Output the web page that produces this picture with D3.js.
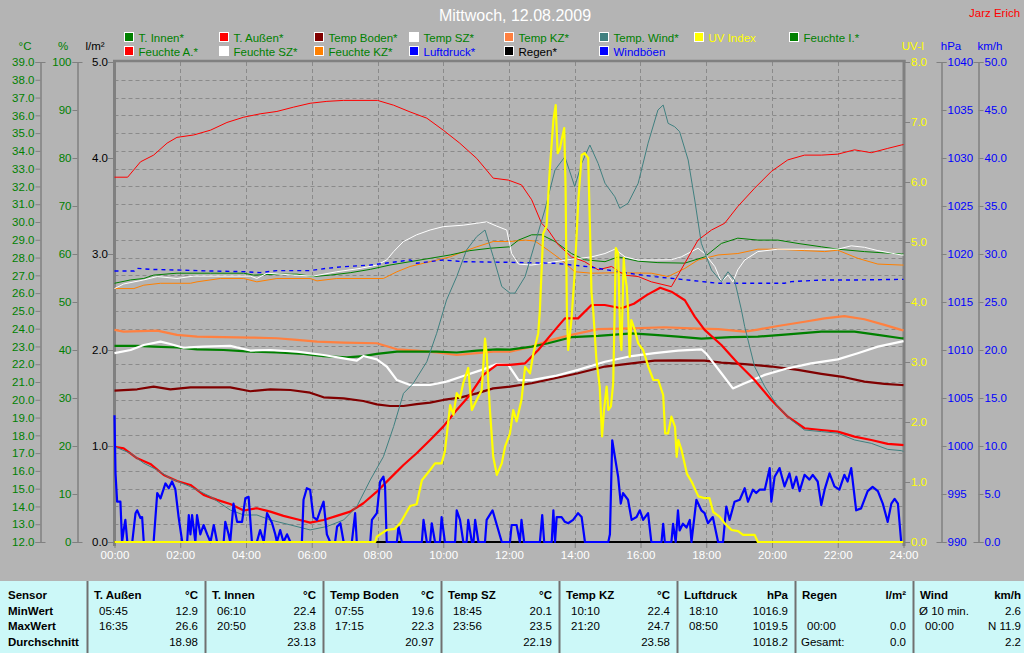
<!DOCTYPE html>
<html><head><meta charset="utf-8">
<script src="https://cdn.jsdelivr.net/npm/d3@7"></script>
<style>
html,body{margin:0;padding:0;background:#b4b4b4;overflow:hidden;}
svg{display:block;font-family:"Liberation Sans",Arial,sans-serif;}
</style></head><body>
<svg id="c" width="1024" height="653"></svg>
<script>
// ---------- DATA (time in hours, value) ----------
const hourTicks = [0,2,4,6,8,10,12,14,16,18,20,22,24];
const hourLabels = ["00:00","02:00","04:00","06:00","08:00","10:00","12:00","14:00","16:00","18:00","20:00","22:00","24:00"];
const tempTicks = [12,13,14,15,16,17,18,19,20,21,22,23,24,25,26,27,28,29,30,31,32,33,34,35,36,37,38,39];
const humTicks = [0,10,20,30,40,50,60,70,80,90,100];
const rainTicks = [0,1,2,3,4,5];
const uvTicks = [0,1,2,3,4,5,6,7,8];
const hpaTicks = [990,995,1000,1005,1010,1015,1020,1025,1030,1035,1040];
const windTicks = [0,5,10,15,20,25,30,35,40,45,50];

const tAussen = [[0,17.36],[0.28,17.27],[0.69,16.71],[1.09,16.39],[1.5,15.77],[1.9,15.43],[2.31,15.21],[2.71,14.65],[3.12,14.37],[3.52,14.14],[3.93,13.77],[4.33,13.9],[4.74,13.71],[5.14,13.47],[5.55,13.28],[5.95,13.09],[6.36,13.24],[6.76,13.47],[7.17,13.71],[7.57,14.18],[7.98,14.83],[8.38,15.58],[8.79,16.33],[9.19,16.99],[9.6,17.74],[10.0,18.49],[10.41,19.43],[10.81,20.27],[11.22,21.4],[11.63,21.96],[12.03,21.96],[12.49,22.05],[12.89,22.8],[13.4,23.93],[13.7,24.58],[14.1,24.58],[14.51,25.33],[14.91,25.33],[15.42,25.15],[15.8,25.4],[16.2,25.9],[16.6,26.3],[16.94,26.08],[17.35,25.6],[17.65,24.68],[17.95,23.93],[18.46,23.08],[18.96,22.05],[19.47,21.11],[19.98,19.99],[20.48,19.05],[20.99,18.4],[21.5,18.3],[22.0,18.21],[22.51,17.93],[23.02,17.74],[23.52,17.52],[23.93,17.46],[24,17.45]];
const tWind = [[0,17.36],[0.49,16.99],[0.89,16.43],[1.3,16.05],[1.7,15.58],[2.31,15.11],[2.92,14.55],[3.52,13.8],[3.93,13.52],[4.33,13.52],[4.74,13.24],[5.35,12.96],[5.95,12.68],[6.46,12.87],[6.97,13.24],[7.37,13.99],[7.78,15.49],[8.18,16.8],[8.49,18.49],[8.79,20.36],[9.09,20.93],[9.5,22.14],[9.8,23.74],[10.1,25.61],[10.41,26.93],[10.71,28.43],[11.02,29.18],[11.27,29.55],[11.52,28.05],[11.78,26.37],[12.03,26.0],[12.18,26.0],[12.49,26.93],[12.79,28.8],[13.09,30.68],[13.4,32.93],[13.7,33.67],[14.0,31.99],[14.21,33.3],[14.46,34.33],[14.71,33.3],[14.92,32.18],[15.22,31.42],[15.37,30.77],[15.62,31.05],[15.93,32.18],[16.23,34.43],[16.53,36.3],[16.69,36.58],[16.84,35.55],[17.04,35.36],[17.19,35.08],[17.45,33.49],[17.65,31.24],[17.85,28.8],[18.16,27.3],[18.46,26.64],[18.66,27.2],[18.86,26.74],[19.07,25.05],[19.17,24.11],[19.47,21.87],[19.78,20.74],[20.18,19.62],[20.59,18.86],[20.99,18.3],[21.5,18.21],[22.0,18.12],[22.51,17.74],[23.02,17.55],[23.52,17.21],[23.93,17.14],[24,17.1]];
const tBoden = [[0,20.52],[0.69,20.59],[1.19,20.74],[1.7,20.59],[2.31,20.7],[2.92,20.7],[3.52,20.7],[4.13,20.48],[4.74,20.59],[5.35,20.55],[5.95,20.4],[6.36,20.14],[6.97,20.08],[7.57,19.93],[7.98,19.74],[8.38,19.65],[8.79,19.65],[9.19,19.76],[9.6,19.84],[10.0,19.99],[10.51,20.12],[11.02,20.36],[11.52,20.64],[12.03,20.74],[12.69,20.93],[13.4,21.21],[14.1,21.49],[14.92,21.87],[15.73,22.05],[16.43,22.2],[17.2,22.22],[17.95,22.2],[18.46,22.09],[19.17,22.01],[19.98,21.87],[20.79,21.68],[21.5,21.46],[22.2,21.27],[22.81,21.02],[23.42,20.89],[23.93,20.83],[24,20.82]];
const tInnen = [[0,23.03],[0.69,23.03],[1.19,22.99],[1.9,22.94],[2.51,22.84],[3.32,22.8],[4.13,22.71],[4.94,22.66],[5.75,22.58],[6.36,22.46],[7.07,22.39],[7.57,22.46],[7.98,22.58],[8.59,22.71],[9.19,22.71],[9.8,22.71],[10.41,22.66],[11.02,22.77],[11.63,22.84],[12.03,22.82],[12.69,22.99],[13.19,23.18],[13.9,23.52],[14.71,23.59],[15.73,23.74],[16.43,23.65],[17.14,23.55],[17.85,23.44],[18.76,23.52],[19.57,23.55],[20.48,23.68],[21.5,23.83],[22.51,23.83],[23.22,23.65],[23.93,23.46],[24,23.45]];
const tKZ = [[0,23.93],[0.28,23.83],[1.3,23.89],[1.9,23.65],[2.51,23.55],[3.32,23.52],[4.13,23.5],[4.94,23.46],[5.55,23.37],[6.16,23.27],[6.97,23.22],[7.98,23.18],[8.59,22.84],[9.19,22.77],[9.8,22.66],[10.41,22.52],[11.02,22.62],[11.52,22.71],[12.03,22.71],[12.69,22.99],[13.29,23.37],[13.9,23.65],[14.71,23.97],[15.73,24.02],[16.73,24.08],[17.55,24.02],[18.36,23.97],[19.17,23.83],[19.57,23.95],[20.18,24.15],[20.99,24.39],[21.6,24.58],[22.2,24.71],[22.81,24.53],[23.42,24.21],[23.93,23.93],[24,23.9]];
const tSZ = [[0,22.62],[0.49,22.8],[0.89,23.08],[1.4,23.27],[1.7,23.14],[2.1,22.93],[2.71,22.99],[3.52,23.03],[4.13,22.77],[4.74,22.8],[5.55,22.71],[6.36,22.52],[6.97,22.33],[7.37,22.2],[7.57,22.46],[7.98,22.27],[8.28,21.87],[8.59,21.11],[8.99,20.83],[9.6,20.83],[10.1,21.02],[10.61,21.34],[11.22,21.71],[11.63,22.01],[11.98,21.96],[12.29,21.11],[12.69,21.11],[13.4,21.34],[14.1,21.68],[14.92,22.14],[15.73,22.46],[16.43,22.62],[17.14,22.77],[17.85,22.84],[18.0,22.6],[18.46,21.49],[18.81,20.64],[19.17,20.93],[19.78,21.4],[20.48,21.77],[21.19,22.05],[22.0,22.27],[22.61,22.62],[23.22,22.99],[23.93,23.27],[24,23.3]];
const hAussen = [[0,76.0],[0.4,76.0],[0.79,79.2],[1.19,80.6],[1.6,83.1],[1.9,84.3],[2.41,84.8],[2.92,85.8],[3.42,87.4],[3.93,88.5],[4.43,89.2],[4.94,89.7],[5.45,90.6],[5.95,91.4],[6.46,91.8],[6.97,92.0],[8.0,92.0],[8.49,91.0],[8.99,89.6],[9.5,88.3],[10.0,85.8],[10.5,83.1],[11.02,79.9],[11.52,75.8],[11.98,75.4],[12.38,74.4],[12.69,71.3],[12.99,66.4],[13.19,65.0],[13.5,61.9],[13.9,59.4],[14.3,58.4],[14.71,56.7],[15.12,57.4],[15.52,55.6],[15.93,55.3],[16.33,54.2],[16.94,53.2],[17.35,58.1],[17.75,62.9],[18.16,65.0],[18.56,66.4],[18.96,69.9],[19.47,73.7],[19.98,77.2],[20.48,79.6],[20.99,80.6],[21.5,80.6],[22.0,80.8],[22.51,81.7],[23.02,81.1],[23.52,82.0],[23.93,82.7],[24,82.8]];
const hInnen = [[0,53.9],[0.49,54.6],[0.89,54.9],[1.19,55.6],[1.9,56.0],[2.92,56.0],[3.93,56.0],[4.23,55.6],[4.94,55.8],[5.55,55.8],[6.05,55.3],[6.56,55.6],[7.17,56.1],[7.78,56.8],[8.38,57.7],[8.99,58.4],[9.6,59.1],[10.21,59.8],[10.81,60.7],[11.42,61.2],[12.03,61.5],[12.29,62.9],[12.69,64.0],[12.99,64.0],[13.4,62.6],[13.9,60.1],[14.3,58.8],[14.92,58.4],[15.32,59.4],[15.93,58.5],[16.53,58.2],[17.35,58.1],[17.95,59.4],[18.46,62.2],[18.96,63.3],[19.57,62.9],[20.18,62.9],[20.79,62.2],[21.5,61.5],[22.0,61.0],[22.81,60.5],[23.93,60.0],[24,60.0]];
const hSZ = [[0,52.8],[0.28,53.75],[0.89,54.6],[1.3,55.3],[1.9,54.9],[2.41,55.4],[3.42,55.4],[4.13,55.4],[4.33,54.9],[4.64,56.0],[5.45,55.6],[6.05,55.4],[6.76,56.3],[7.47,57.0],[7.98,57.7],[8.28,58.75],[8.49,60.5],[8.79,62.6],[9.19,64.0],[9.6,65.0],[10.0,65.7],[10.61,66.0],[11.02,66.4],[11.32,66.7],[11.63,65.8],[11.93,65.0],[12.08,60.1],[12.29,57.9],[12.69,57.7],[13.4,58.4],[13.9,58.9],[14.51,59.4],[14.92,60.1],[15.22,61.0],[15.53,59.4],[15.93,58.75],[16.43,58.75],[16.94,58.8],[17.24,59.4],[17.55,60.5],[17.75,61.2],[17.95,60.1],[18.26,57.4],[18.46,54.2],[18.66,55.6],[18.81,54.2],[18.96,56.7],[19.17,58.75],[19.57,60.5],[20.18,61.0],[20.99,61.0],[22.0,61.0],[22.41,61.7],[22.81,61.4],[23.22,60.7],[23.93,59.8],[24,59.8]];
const hKZ = [[0,52.8],[0.59,52.8],[0.89,53.5],[1.4,53.9],[2.31,53.9],[2.51,54.2],[3.22,54.9],[3.93,54.9],[4.33,54.2],[4.94,54.9],[5.95,54.9],[6.16,54.4],[6.76,54.9],[8.18,54.9],[8.59,56.3],[8.99,57.4],[9.6,58.4],[10.21,59.4],[10.61,60.5],[11.02,61.5],[11.52,62.6],[12.03,62.6],[12.49,62.9],[12.79,62.7],[13.19,60.8],[13.6,58.75],[14.0,56.3],[14.51,56.0],[15.32,56.1],[16.33,56.0],[16.84,55.3],[17.35,57.0],[17.75,58.75],[18.36,59.8],[18.96,60.1],[19.57,61.0],[20.18,61.0],[20.99,60.7],[21.6,60.5],[22.0,60.8],[22.61,59.1],[23.22,57.9],[23.93,57.7],[24,57.7]];
const pressure = [[0,1018.23],[0.6,1018.23],[0.69,1018.51],[1.09,1018.4],[1.9,1018.33],[2.92,1018.23],[3.93,1018.16],[4.43,1018.06],[4.94,1018.27],[5.95,1018.27],[6.46,1018.51],[6.97,1018.68],[7.78,1018.85],[8.38,1019.1],[8.99,1019.38],[9.19,1019.03],[10.0,1019.38],[10.61,1019.2],[12.03,1019.13],[13.4,1019.03],[14.41,1018.68],[15.42,1018.09],[16.43,1017.64],[17.24,1017.36],[18.36,1016.95],[19.47,1016.95],[20.38,1016.95],[20.59,1017.12],[21.5,1017.29],[22.51,1017.29],[23.93,1017.36],[24,1017.36]];
const rain = [[0,0],[24,0]];
const uvIndex = [[0,0],[7.93,0],[7.98,0.09],[8.28,0.2],[8.52,0.22],[8.69,0.31],[8.99,0.6],[9.19,0.63],[9.35,1.03],[9.6,1.2],[9.75,1.31],[9.95,1.31],[10.05,1.51],[10.21,2.28],[10.31,2.12],[10.41,2.48],[10.51,2.4],[10.61,2.65],[10.76,2.9],[10.87,2.2],[11.02,2.37],[11.17,2.53],[11.27,3.39],[11.32,3.14],[11.42,2.2],[11.52,1.42],[11.63,1.12],[11.78,1.31],[11.88,1.59],[12.03,1.81],[12.13,2.2],[12.23,2.01],[12.38,2.37],[12.49,2.92],[12.64,2.81],[12.74,3.14],[12.89,3.48],[12.94,3.87],[13.04,5.14],[13.14,5.26],[13.24,6.2],[13.35,7.03],[13.42,7.28],[13.48,6.48],[13.55,6.56],[13.6,6.7],[13.68,6.9],[13.72,5.92],[13.76,3.87],[13.8,3.2],[13.9,3.7],[14.0,4.5],[14.11,5.7],[14.21,6.45],[14.3,6.48],[14.41,6.4],[14.51,4.15],[14.56,3.87],[14.66,3.03],[14.76,2.59],[14.83,1.76],[14.89,2.2],[14.97,2.59],[15.02,2.2],[15.1,2.26],[15.17,2.65],[15.22,4.03],[15.25,4.9],[15.32,4.81],[15.38,3.5],[15.42,3.2],[15.49,4.73],[15.52,4.48],[15.58,4.26],[15.62,3.87],[15.67,3.09],[15.72,3.7],[15.83,3.53],[15.93,3.31],[16.08,3.2],[16.24,2.92],[16.39,2.7],[16.54,2.7],[16.69,2.45],[16.75,1.81],[16.84,1.81],[16.94,2.09],[17.05,1.92],[17.1,1.42],[17.15,1.7],[17.25,1.53],[17.41,1.14],[17.56,1.0],[17.76,0.76],[17.96,0.73],[18.1,0.73],[18.21,0.5],[18.41,0.42],[18.56,0.31],[18.77,0.2],[18.97,0.18],[19.12,0.12],[19.47,0.12],[19.57,0],[24,0]];
const gusts = [[0,13.2],[0.03,7.15],[0.08,4.2],[0.18,4.2],[0.23,0],[0.28,1.25],[0.33,2.3],[0.39,0],[0.54,0],[0.64,3.0],[0.69,3.3],[0.79,2.5],[0.84,2.6],[0.89,0],[1.19,0],[1.3,5.1],[1.4,4.55],[1.55,6.1],[1.65,5.6],[1.75,6.3],[1.85,5.5],[1.95,2.6],[2.06,0],[2.21,0],[2.26,2.8],[2.31,0.8],[2.36,2.8],[2.46,0],[2.51,2.8],[2.61,0.8],[2.71,1.77],[2.82,0.8],[2.92,0],[3.02,1.77],[3.12,0],[3.32,0],[3.37,2.1],[3.47,0.8],[3.52,0],[3.62,4.0],[3.73,2.1],[3.88,2.1],[3.98,4.55],[4.08,4.7],[4.18,0],[4.33,0],[4.43,1.25],[4.54,0],[4.64,3.0],[4.79,2.0],[4.89,0.8],[4.94,0],[5.04,1.25],[5.14,0],[5.25,0.8],[5.35,0],[5.7,0],[5.75,4.4],[5.85,5.6],[5.95,5.45],[6.05,2.6],[6.16,2.3],[6.26,3.3],[6.36,4.2],[6.46,0.8],[6.56,0],[6.71,0],[6.77,1.6],[6.87,1.95],[6.97,0],[7.22,0],[7.32,3.0],[7.37,0],[7.78,0],[7.83,2.3],[7.98,3.0],[8.08,6.3],[8.18,6.8],[8.23,5.8],[8.28,0],[8.59,0],[8.64,1.6],[8.74,0],[9.35,0],[9.4,2.3],[9.5,0],[9.6,0],[9.65,1.95],[9.75,0],[9.9,0],[9.95,2.6],[10.05,0],[10.36,0],[10.41,3.3],[10.51,2.3],[10.61,0],[10.71,0],[10.76,2.3],[10.87,0],[10.92,0],[10.97,2.3],[11.07,0],[11.27,0],[11.32,2.3],[11.5,3.3],[11.63,1.77],[11.78,0],[12.03,0],[12.08,1.77],[12.23,1.77],[12.33,0],[12.38,2.3],[12.46,0],[12.94,0],[13.01,2.8],[13.07,0],[13.3,0],[13.35,3.3],[13.4,0],[13.45,2.6],[13.5,2.6],[13.6,2.6],[13.7,2.1],[13.8,1.95],[13.95,2.3],[14.1,3.0],[14.21,2.6],[14.31,0],[15.02,0],[15.07,0.8],[15.14,10.6],[15.22,8.9],[15.32,6.8],[15.4,4.0],[15.47,5.1],[15.62,4.4],[15.73,2.3],[15.88,2.6],[15.98,3.3],[16.08,2.3],[16.23,3.0],[16.33,0],[16.64,0],[16.69,1.9],[16.74,0],[16.94,0],[16.99,1.9],[17.07,0],[17.14,3.3],[17.19,1.2],[17.29,1.9],[17.4,1.5],[17.5,2.3],[17.55,0],[17.7,4.4],[17.85,3.3],[17.95,3.0],[18.05,1.95],[18.2,2.6],[18.36,0],[18.51,0],[18.61,3.7],[18.71,2.3],[18.86,4.2],[19.02,4.4],[19.17,5.6],[19.27,4.2],[19.42,5.45],[19.52,5.1],[19.62,5.45],[19.78,5.45],[19.93,7.7],[19.98,4.2],[20.08,6.8],[20.23,7.7],[20.38,5.8],[20.53,7.15],[20.63,5.6],[20.74,6.8],[20.84,5.3],[20.99,7.0],[21.14,6.5],[21.24,7.0],[21.39,6.3],[21.5,3.85],[21.6,5.45],[21.75,7.15],[21.9,5.8],[22.05,5.45],[22.2,7.0],[22.3,6.3],[22.41,7.7],[22.56,3.3],[22.71,3.5],[22.91,5.3],[23.06,5.75],[23.22,5.3],[23.37,4.0],[23.52,2.1],[23.63,4.0],[23.73,4.5],[23.83,4.0],[23.93,0],[24,0]];

// legend entries
const legendLabels = ["T. Innen*","T. Außen*","Temp Boden*","Temp SZ*","Temp KZ*","Temp. Wind*","UV Index","Feuchte I.*","Feuchte A.*","Feuchte SZ*","Feuchte KZ*","Luftdruck*","Regen*","Windböen"];
const legendSwatch = ["#008000","#ff0000","#800000","#ffffff","#ff8040","#408080","#ffff00","#008000","#ff0000","#ffffff","#ff8000","#0000ff","#000000","#0000ff"];
const legendText = ["#008000","#008000","#008000","#008000","#008000","#008000","#ffff00","#008000","#008000","#008000","#008000","#0000ff","#000000","#0000ff"];

// table
const tableRowLabels = ["Sensor","MinWert","MaxWert","Durchschnitt"];
const tableCols = [
  {name:"T. Außen", unit:"°C", min:["05:45","12.9"], max:["16:35","26.6"], avg:["","18.98"]},
  {name:"T. Innen", unit:"°C", min:["06:10","22.4"], max:["20:50","23.8"], avg:["","23.13"]},
  {name:"Temp Boden", unit:"°C", min:["07:55","19.6"], max:["17:15","22.3"], avg:["","20.97"]},
  {name:"Temp SZ", unit:"°C", min:["18:45","20.1"], max:["23:56","23.5"], avg:["","22.19"]},
  {name:"Temp KZ", unit:"°C", min:["10:10","22.4"], max:["21:20","24.7"], avg:["","23.58"]},
  {name:"Luftdruck", unit:"hPa", min:["18:10","1016.9"], max:["08:50","1019.5"], avg:["","1018.2"]},
  {name:"Regen", unit:"l/m²", min:["",""], max:["00:00","0.0"], avg:["Gesamt:","0.0"]},
  {name:"Wind", unit:"km/h", min:["Ø 10 min.","2.6"], max:["00:00","N 11.9"], avg:["","2.2"]}
];

// ---------- DRAW ----------
const svg = d3.select("#c");
const GRAY = "#808080";
svg.append("rect").attr("width",1024).attr("height",653).attr("fill","#b4b4b4");

const x = d3.scaleLinear([0,24],[114.5,903.5]);
const yT = d3.scaleLinear([12,39],[542,62]);
const yH = d3.scaleLinear([0,100],[542,62]);
const yR = d3.scaleLinear([0,5],[542,62]);
const yU = d3.scaleLinear([0,8],[542,62]);
const yP = d3.scaleLinear([990,1040],[542,62]);
const yW = d3.scaleLinear([0,50],[542,62]);

// title
svg.append("text").attr("x",515).attr("y",21).attr("text-anchor","middle")
  .attr("fill","#ffffff").attr("font-size",16).text("Mittwoch, 12.08.2009");
svg.append("text").attr("x",969).attr("y",17).attr("fill","#ff0000").attr("font-size",11.5).text("Jarz Erich");

// legend
const lg = svg.append("g");
legendLabels.forEach((lab,i)=>{
  const row = i<8?0:1, col = i<8?i:i-8;
  const sx = 124.5 + col*95, sy = 32.5 + row*14;
  lg.append("rect").attr("x",sx).attr("y",sy).attr("width",9).attr("height",9)
    .attr("fill",legendSwatch[i]).attr("stroke","#ffffff").attr("stroke-width",1);
  lg.append("text").attr("x",sx+14).attr("y",sy+9).attr("font-size",11.5)
    .attr("fill",legendText[i]).text(lab);
});

// unit labels
const units = [["°C",25,"#008000"],["%",63,"#008000"],["l/m²",95,"#000000"],["UV-I",913,"#ffff00"],["hPa",951,"#0000ff"],["km/h",990,"#0000ff"]];
units.forEach(u=>svg.append("text").attr("x",u[1]).attr("y",50).attr("text-anchor","middle")
  .attr("font-size",11.5).attr("fill",u[2]).text(u[0]));

// grid
const grid = svg.append("g").attr("stroke","#8a8a8a").attr("stroke-width",1).attr("stroke-dasharray","4,3");
tempTicks.filter(t=>t>12&&t<39).forEach(t=>grid.append("line")
  .attr("x1",x(0)).attr("x2",x(24)).attr("y1",Math.round(yT(t))+0.5).attr("y2",Math.round(yT(t))+0.5));
hourTicks.filter(h=>h>0&&h<24).forEach(h=>grid.append("line")
  .attr("x1",Math.round(x(h))+0.5).attr("x2",Math.round(x(h))+0.5).attr("y1",62).attr("y2",542));

// frame
svg.append("line").attr("x1",114.5).attr("x2",114.5).attr("y1",60).attr("y2",546).attr("stroke",GRAY).attr("stroke-width",3);
svg.append("line").attr("x1",904).attr("x2",904).attr("y1",60).attr("y2",546).attr("stroke",GRAY).attr("stroke-width",3);
svg.append("line").attr("x1",113).attr("x2",905.5).attr("y1",61).attr("y2",61).attr("stroke",GRAY).attr("stroke-width",2.5);
svg.append("line").attr("x1",113).attr("x2",905.5).attr("y1",542.5).attr("y2",542.5).attr("stroke",GRAY).attr("stroke-width",1);

function styleAxis(g,color){
  g.selectAll("text").attr("fill",color).attr("font-size",11.5).attr("font-family","'Liberation Sans',Arial,sans-serif");
  g.selectAll("line").attr("stroke",GRAY);
  g.selectAll(".domain").attr("stroke",GRAY).attr("stroke-width",1.5);
}
function caps(xp, scale, dom){
  dom.forEach(v=>svg.append("line").attr("x1",xp-5).attr("x2",xp+5)
    .attr("y1",Math.round(scale(v))+0.5).attr("y2",Math.round(scale(v))+0.5).attr("stroke",GRAY));
}
// left axes
const aT = svg.append("g").attr("transform","translate(40.5,0)")
  .call(d3.axisLeft(yT).tickValues(tempTicks).tickFormat(d3.format(".1f")).tickSize(5).tickSizeOuter(0).tickPadding(1));
styleAxis(aT,"#008000"); caps(40.5,yT,[12,39]);
const aH = svg.append("g").attr("transform","translate(77.5,0)")
  .call(d3.axisLeft(yH).tickValues(humTicks).tickFormat(d3.format("d")).tickSize(5).tickSizeOuter(0).tickPadding(1));
styleAxis(aH,"#008000"); caps(77.5,yH,[0,100]);
const aR = svg.append("g").attr("transform","translate(113,0)")
  .call(d3.axisLeft(yR).tickValues(rainTicks).tickFormat(d3.format(".1f")).tickSize(5).tickSizeOuter(0).tickPadding(0));
styleAxis(aR,"#000000"); aR.select(".domain").remove();
// right axes
const aU = svg.append("g").attr("transform","translate(905,0)")
  .call(d3.axisRight(yU).tickValues(uvTicks).tickFormat(d3.format(".1f")).tickSize(5).tickSizeOuter(0).tickPadding(1));
styleAxis(aU,"#ffff00"); aU.select(".domain").remove();
const aP = svg.append("g").attr("transform","translate(941.5,0)")
  .call(d3.axisRight(yP).tickValues(hpaTicks).tickFormat(d3.format("d")).tickSize(5).tickSizeOuter(0).tickPadding(1));
styleAxis(aP,"#0000ff"); caps(941.5,yP,[990,1040]);
const aW = svg.append("g").attr("transform","translate(978.5,0)")
  .call(d3.axisRight(yW).tickValues(windTicks).tickFormat(d3.format(".1f")).tickSize(5).tickSizeOuter(0).tickPadding(1));
styleAxis(aW,"#0000ff"); caps(978.5,yW,[0,50]);
// x axis
const aX = svg.append("g").attr("transform","translate(0,542)")
  .call(d3.axisBottom(x).tickValues(hourTicks).tickFormat((d,i)=>hourLabels[i]).tickSize(6).tickSizeOuter(0).tickPadding(3));
styleAxis(aX,"#ffffff"); aX.select(".domain").remove();

// series
function draw(data, scale, color, w, dash){
  const p = svg.append("path").datum(data)
    .attr("d", d3.line().x(d=>x(d[0])).y(d=>scale(d[1])))
    .attr("fill","none").attr("stroke",color).attr("stroke-width",w)
    .attr("stroke-linejoin","round");
  if(dash) p.attr("stroke-dasharray",dash);
}
draw(hKZ, yH, "#ff8000", 1);
draw(hInnen, yH, "#008000", 1);
draw(hSZ, yH, "#ffffff", 1);
draw(hAussen, yH, "#ff0000", 1);
draw(pressure, yP, "#0000ff", 1.4, "4,4");
draw(tBoden, yT, "#800000", 2.2);
draw(tKZ, yT, "#ff8040", 2.2);
draw(tInnen, yT, "#008000", 2.2);
draw(tSZ, yT, "#ffffff", 2.2);
draw(tAussen, yT, "#ff0000", 2.2);
draw(tWind, yT, "#408080", 1);
draw(rain, yR, "#000000", 2);
draw(gusts, yW, "#0000ff", 2.2);
draw(uvIndex, yU, "#ffff00", 2.2);

// table
const tb = svg.append("g");
tb.append("rect").attr("x",0).attr("y",581).attr("width",1024).attr("height",72).attr("fill","#ccf8f8");
const rowY = [598.5,614.5,630,646];
tableRowLabels.forEach((l,i)=>tb.append("text").attr("x",8).attr("y",rowY[i]).attr("font-size",11.5)
  .attr("font-weight","bold").attr("fill","#000").text(l));
tableCols.forEach((c,i)=>{
  const s = 87 + i*118, e = Math.min(s+118, 1028);
  tb.append("line").attr("x1",s+0.5).attr("x2",s+0.5).attr("y1",581).attr("y2",653).attr("stroke","#707070").attr("stroke-width",2);
  tb.append("text").attr("x",s+7).attr("y",rowY[0]).attr("font-size",11.5).attr("font-weight","bold").text(c.name);
  tb.append("text").attr("x",e-7).attr("y",rowY[0]).attr("font-size",11.5).attr("font-weight","bold").attr("text-anchor","end").text(c.unit);
  [c.min,c.max,c.avg].forEach((v,j)=>{
    const lx = /^[0-9]/.test(v[0]) ? s+12 : s+6;
    tb.append("text").attr("x",lx).attr("y",rowY[j+1]).attr("font-size",11.5).text(v[0]);
    tb.append("text").attr("x",e-7).attr("y",rowY[j+1]).attr("font-size",11.5).attr("text-anchor","end").text(v[1]);
  });
});
</script>
</body></html>
